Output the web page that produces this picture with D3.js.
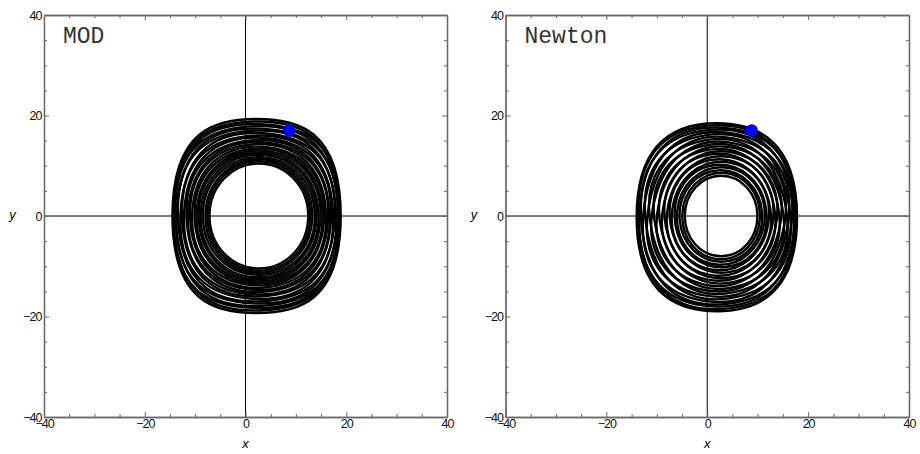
<!DOCTYPE html>
<html>
<head>
<meta charset="utf-8">
<script src="https://cdn.jsdelivr.net/npm/d3@7"></script>
<style>
  body { margin: 0; background: #fff; }
  svg { display: block; }
  .tick text { font-family: "Liberation Sans", Arial, sans-serif; font-size: 12.5px; fill: #111; letter-spacing: -1px; }
</style>
</head>
<body>
<svg id="chart" width="920" height="454"></svg>
<script>
// Axis setup shared by both panels
const axisDomain = [-40, 40];
const majorTicks = [-40, -20, 0, 20, 40];
const minorTicks = [-35, -30, -25, -15, -10, -5, 5, 10, 15, 25, 30, 35];

// MOD orbit, one entry per revolution:
// centre, half width, half height, side handle (flatness of the sides),
// end handle (roundness of top and bottom), tilt (deg)
const modLoopCx    = [2.2, 2.2, 2.2, 2.3, 2.3, 2.3, 2.4, 2.4, 2.4, 2.5, 2.5, 2.5, 2.5, 2.6, 2.6, 2.6, 2.6, 2.65, 2.65, 2.65, 2.65];
const modLoopCy    = [0, 0, 0, 0, 0, 0, 0, 0, 0, 0, 0, 0, 0, 0, 0, 0, 0, 0, 0, 0, 0];
const modLoopHalfW = [16.7, 16.5, 16.5, 16.2, 16.0, 15.7, 15.3, 15.0, 14.6, 14.2, 13.9, 13.5, 13.1, 12.7, 12.3, 11.9, 11.5, 11.1, 10.6, 10.2, 9.8];
const modLoopHalfH = [19.3, 18.8, 18.3, 17.9, 17.4, 17.0, 16.5, 16.0, 15.6, 15.1, 14.7, 14.3, 13.8, 13.4, 13.0, 12.6, 12.2, 11.7, 11.3, 10.9, 10.45];
const modLoopSideK = [0.9, 0.89, 0.88, 0.86, 0.85, 0.83, 0.81, 0.79, 0.77, 0.75, 0.73, 0.71, 0.69, 0.67, 0.65, 0.63, 0.61, 0.6, 0.58, 0.57, 0.56];
const modLoopEndK  = [0.48, 0.485, 0.49, 0.5, 0.5, 0.51, 0.515, 0.52, 0.52, 0.525, 0.53, 0.535, 0.54, 0.54, 0.545, 0.545, 0.55, 0.55, 0.552, 0.552, 0.553];
const modLoopTilt  = [0, 1.5, -2, 2.5, -2.5, 3, -3.5, 3, -3, 3.5, -3, 3, -3, 2.5, -2.5, 2, -2, 1.5, -1, 0.5, 0];
const modBody = [8.7, 17.0];

// Newton orbit, same layout
const newtonLoopCx    = [1.9, 1.9, 1.95, 2.0, 2.05, 2.1, 2.15, 2.2, 2.25, 2.3, 2.35, 2.4, 2.45, 2.5, 2.55, 2.6, 2.6, 2.65, 2.7, 2.7, 2.75, 2.75];
const newtonLoopCy    = [-0.25, -0.25, -0.2, -0.2, -0.2, -0.15, -0.15, -0.1, -0.1, -0.1, -0.05, -0.05, 0, 0, 0, 0, 0, 0, 0, 0, 0, 0];
const newtonLoopHalfW = [15.9, 15.6, 15.4, 15.1, 14.7, 14.3, 13.9, 13.5, 13.1, 12.7, 12.2, 11.8, 11.3, 10.9, 10.5, 10.0, 9.6, 9.1, 8.7, 8.2, 7.7, 7.2];
const newtonLoopHalfH = [18.7, 18.3, 17.8, 17.4, 16.9, 16.4, 15.9, 15.4, 14.9, 14.4, 13.9, 13.4, 12.9, 12.4, 11.9, 11.3, 10.8, 10.2, 9.7, 9.1, 8.6, 8.0];
const newtonLoopSideK = [0.82, 0.81, 0.8, 0.79, 0.77, 0.76, 0.74, 0.73, 0.71, 0.7, 0.68, 0.67, 0.65, 0.64, 0.62, 0.61, 0.6, 0.59, 0.58, 0.57, 0.56, 0.555];
const newtonLoopEndK  = [0.5, 0.5, 0.505, 0.51, 0.51, 0.515, 0.52, 0.52, 0.525, 0.53, 0.53, 0.535, 0.54, 0.54, 0.545, 0.545, 0.55, 0.55, 0.552, 0.552, 0.553, 0.553];
const newtonLoopTilt  = [0, 2, -3, 5, -7, 9, -11, 12, -13, 13, -13, 12, -12, 11, -10, 9, -8, 6, -5, 3, -2, 0];
const newtonBody = [8.8, 17.0];

const panels = [
  { title: "MOD", left: 44, right: 447, body: modBody,
    cx: modLoopCx, cy: modLoopCy, hw: modLoopHalfW, hh: modLoopHalfH,
    sideK: modLoopSideK, endK: modLoopEndK, tilt: modLoopTilt },
  { title: "Newton", left: 505.5, right: 909, body: newtonBody,
    cx: newtonLoopCx, cy: newtonLoopCy, hw: newtonLoopHalfW, hh: newtonLoopHalfH,
    sideK: newtonLoopSideK, endK: newtonLoopEndK, tilt: newtonLoopTilt }
];
const plotTop = 15, plotBottom = 417;

const svg = d3.select("#chart");
svg.append("rect").attr("width", 920).attr("height", 454).attr("fill", "#fff");

const frameColor = "#6a6a6a";

panels.forEach(pn => {
  const x = d3.scaleLinear().domain(axisDomain).range([pn.left, pn.right]);
  const y = d3.scaleLinear().domain(axisDomain).range([plotBottom, plotTop]);
  const g = svg.append("g");

  // zero lines
  g.append("line").attr("x1", x(-40)).attr("x2", x(40)).attr("y1", y(0)).attr("y2", y(0))
    .attr("stroke", "#000").attr("stroke-width", 1);
  g.append("line").attr("x1", x(0)).attr("x2", x(0)).attr("y1", y(-40)).attr("y2", y(40))
    .attr("stroke", "#000").attr("stroke-width", 1);

  // one closed loop per revolution, four cubic quarters in data units
  function loopPath(i) {
    const a = pn.tilt[i] * Math.PI / 180, ca = Math.cos(a), sa = Math.sin(a);
    const w = pn.hw[i], h = pn.hh[i], kv = pn.sideK[i] * h, kh = pn.endK[i] * w;
    const P = (u, v) => [x(pn.cx[i] + u * ca - v * sa), y(pn.cy[i] + u * sa + v * ca)];
    const p = d3.path();
    p.moveTo(...P(w, 0));
    p.bezierCurveTo(...P(w, kv), ...P(kh, h), ...P(0, h));
    p.bezierCurveTo(...P(-kh, h), ...P(-w, kv), ...P(-w, 0));
    p.bezierCurveTo(...P(-w, -kv), ...P(-kh, -h), ...P(0, -h));
    p.bezierCurveTo(...P(kh, -h), ...P(w, -kv), ...P(w, 0));
    p.closePath();
    return p.toString();
  }

  g.append("g").attr("fill", "none").attr("stroke", "#000").attr("stroke-width", 2.4)
    .selectAll("path").data(d3.range(pn.hw.length)).join("path").attr("d", loopPath);

  // body marker
  g.append("circle").attr("cx", x(pn.body[0])).attr("cy", y(pn.body[1])).attr("r", 6.3).attr("fill", "#0000ff");

  const fmt = d => d < 0 ? "\u2212" + Math.abs(d) : String(d);

  function styleAxis(sel) {
    sel.select(".domain").attr("stroke", frameColor).attr("stroke-width", 1.3);
    sel.selectAll(".tick line").attr("stroke", frameColor).attr("stroke-width", 1);
  }

  // bottom and left axes with labels, ticks pointing inward
  g.append("g").attr("transform", `translate(0,${plotBottom})`)
    .call(d3.axisBottom(x).tickValues(majorTicks).tickSize(-5).tickSizeOuter(0).tickPadding(2).tickFormat(fmt))
    .call(styleAxis);
  g.append("g").attr("transform", `translate(0,${plotBottom})`)
    .call(d3.axisBottom(x).tickValues(minorTicks).tickSize(-3).tickSizeOuter(0).tickFormat(""))
    .call(styleAxis);
  g.append("g").attr("transform", `translate(${pn.left},0)`)
    .call(d3.axisLeft(y).tickValues(majorTicks).tickSize(-5).tickSizeOuter(0).tickPadding(2.5).tickFormat(fmt))
    .call(styleAxis);
  g.append("g").attr("transform", `translate(${pn.left},0)`)
    .call(d3.axisLeft(y).tickValues(minorTicks).tickSize(-3).tickSizeOuter(0).tickFormat(""))
    .call(styleAxis);
  // top and right mirrors without labels
  g.append("g").attr("transform", `translate(0,${plotTop})`)
    .call(d3.axisTop(x).tickValues(majorTicks).tickSize(-5).tickSizeOuter(0).tickFormat(""))
    .call(styleAxis);
  g.append("g").attr("transform", `translate(0,${plotTop})`)
    .call(d3.axisTop(x).tickValues(minorTicks).tickSize(-3).tickSizeOuter(0).tickFormat(""))
    .call(styleAxis);
  g.append("g").attr("transform", `translate(${pn.right},0)`)
    .call(d3.axisRight(y).tickValues(majorTicks).tickSize(-5).tickSizeOuter(0).tickFormat(""))
    .call(styleAxis);
  g.append("g").attr("transform", `translate(${pn.right},0)`)
    .call(d3.axisRight(y).tickValues(minorTicks).tickSize(-3).tickSizeOuter(0).tickFormat(""))
    .call(styleAxis);

  // panel title
  g.append("text").attr("x", pn.left + 19).attr("y", 43)
    .attr("font-family", "'Liberation Mono', 'Courier New', monospace").attr("font-size", 23)
    .attr("fill", "#333").text(pn.title);

  // axis titles
  g.append("text").attr("x", x(0)).attr("y", 448).attr("text-anchor", "middle")
    .attr("font-family", "'Liberation Sans', Arial, sans-serif").attr("font-style", "italic")
    .attr("font-size", 13).text("x");
  g.append("text").attr("x", pn.left - 31.5).attr("y", 219).attr("text-anchor", "middle")
    .attr("font-family", "'Liberation Sans', Arial, sans-serif").attr("font-style", "italic")
    .attr("font-size", 13).text("y");
});
</script>
</body>
</html>
